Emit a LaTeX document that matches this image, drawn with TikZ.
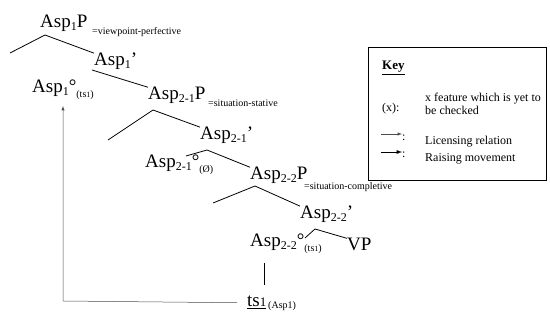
\documentclass[tikz,border=0pt]{standalone}
\usepackage{fontspec}
\setmainfont{Liberation Serif}
\usepackage{tikz}
\usetikzlibrary{arrows,positioning}
\tikzstyle{branch} = [line width=0.8pt]
\tikzstyle{licensing} = [line width=0.5pt,gray!60!black,->,>=latex]
\tikzstyle{raising} = [line width=0.9pt,->,>=latex]
\newcommand{\lsub}[1]{\raisebox{-3pt}{\fontsize{12}{12}\selectfont #1}}
\newcommand{\lnote}[1]{\raisebox{-5pt}{\fontsize{10}{10}\selectfont #1}}
\tikzset{
cat/.style= {inner sep=0pt,anchor=base west,font=\fontsize{19}{22}\selectfont},
feat/.style= {inner sep=0pt,anchor=base west,font=\fontsize{10}{12}\selectfont},
keytext/.style= {inner sep=0pt,anchor=base west,font=\fontsize{12}{14}\selectfont}
}
\begin{document}
\begin{tikzpicture}[x=1pt,y=-1pt]
\useasboundingbox (0,0) rectangle (550,320);

% the categories of the tree
\node[cat] (a1p) at (40,28) {Asp\lsub{1}P};
\node[feat] (a1pf) at (92,35) {=viewpoint-perfective};
\node[cat] (a1bar) at (94,66) {Asp\lsub{1}’};
\node[cat] (a1h) at (32,93) {Asp\lsub{1}°\lnote{(ts{\fontsize{8}{8}\selectfont 1})}};
\node[cat] (a21p) at (148,100) {Asp\lsub{2-1}P};
\node[feat] (a21pf) at (208,107) {=situation-stative};
\node[cat] (a21bar) at (200,140) {Asp\lsub{2-1}’};
\node[cat] (a21h) at (145,168) {Asp\lsub{2-1}°\lnote{(Ø)}};
\node[cat] (a22p) at (250,180) {Asp\lsub{2-2}P};
\node[feat] (a22pf) at (304,190) {=situation-completive};
\node[cat] (a22bar) at (300,219) {Asp\lsub{2-2}’};
\node[cat] (a22h) at (250,247) {Asp\lsub{2-2}°\lnote{(ts{\fontsize{8}{8}\selectfont 1})}};
\node[cat] (vp) at (347,251) {VP};
\node[cat] (tsi) at (247,307) {\underline{ts{\fontsize{13}{13}\selectfont 1}}};
\node[feat] (tsif) at (268,309) {(Asp1)};

% branching points and free ends
\coordinate (b1) at (45,35);
\coordinate (b1l) at (10,53);
\coordinate (b2) at (92,70);
\coordinate (b3) at (153,110);
\coordinate (b3l) at (108,140);
\coordinate (b4) at (207,150);
\coordinate (b4l) at (186,156);
\coordinate (b5) at (255,186);
\coordinate (b5l) at (213,203);
\coordinate (b6) at (315,229);
\coordinate (b6l) at (305,238);
\coordinate (lic) at (264,263);
\coordinate (up) at (63,106);
\coordinate (corner) at (63,301);

\draw[branch] (b1l) -- (b1) -- (a1bar.north west);
\draw[branch] (b2) -- (a21p.north west);
\draw[branch] (b3l) -- (b3) -- (a21bar.north west);
\draw[branch] (b4l) -- (b4) -- (a22p.north west);
\draw[branch] (b5l) -- (b5) -- (a22bar.north west);
\draw[branch] (b6l) -- (b6) -- (vp.north west);
\draw[branch] (lic) -- ++(0,22);

% movement of ts1 up to Asp1
\draw[licensing] ([xshift=-10pt]tsi.west) -- (corner) -- (up);

% the key
\node[draw,thin,minimum width=178pt,minimum height=133pt,anchor=north west] (key) at (368,47) {};
\node[keytext,font=\fontsize{13}{15}\selectfont\bfseries] (keyt) at (382,70) {\underline{Key}};
\node[keytext] (kx) at (382,112) {(x):};
\node[keytext,align=left] (kxt) at (425,115) {x feature which is yet to\\[-1pt] be checked};
\node[keytext] (kl) at (425,145) {Licensing relation};
\node[keytext] (kr) at (425,162) {Raising movement};
\node[keytext] (klc) at (402,141) {:};
\node[keytext] (krc) at (402,158) {:};
\coordinate (kl0) at (381,134);
\coordinate (kr0) at (381,152);
\draw[licensing] (kl0) -- (klc.west |- kl0);
\draw[raising] (kr0) -- (krc.west |- kr0);
\end{tikzpicture}
\end{document}
